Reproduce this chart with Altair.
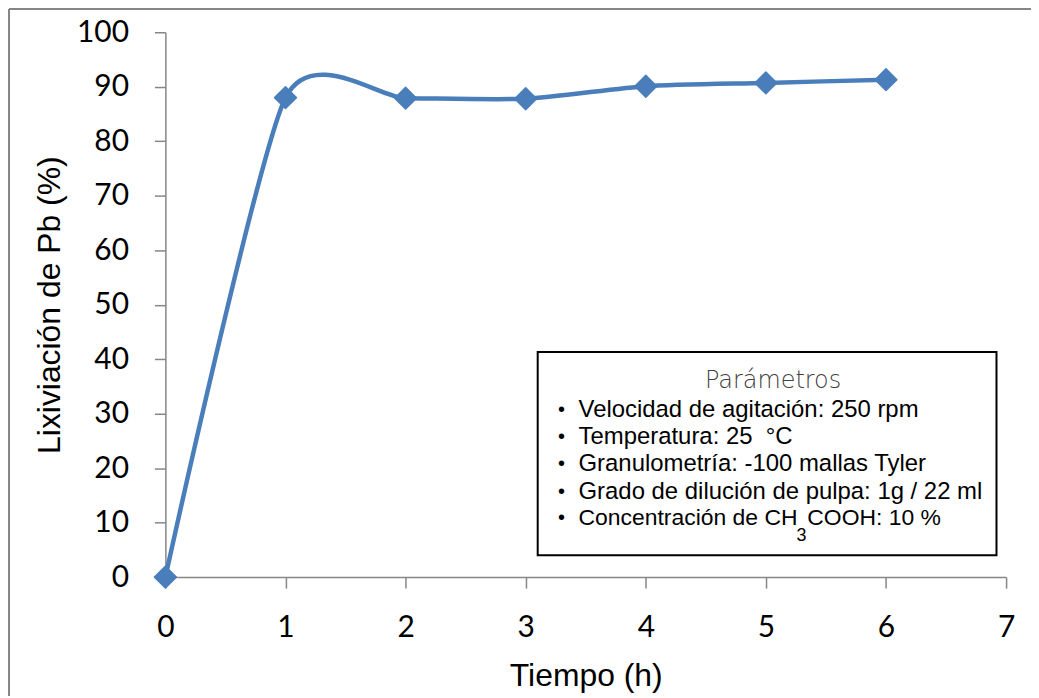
import altair as alt
import pandas as pd

# ---- data ----
tiempo = [0, 1, 2, 3, 4, 5, 6]
lixiviacion = [0.0, 88.0, 87.9, 87.8, 90.1, 90.7, 91.3]

x_ticks = [0, 1, 2, 3, 4, 5, 6, 7]
y_ticks = [0, 10, 20, 30, 40, 50, 60, 70, 80, 90, 100]

box_title = "Parámetros"
box_lines = [
    "Velocidad de agitación: 250 rpm",
    "Temperatura: 25\u00a0 °C",
    "Granulometría: -100 mallas Tyler",
    "Grado de dilución de pulpa: 1g / 22 ml",
]
last_line = "Concentración de CH"
sub_text = "3"
after_sub = "COOH: 10 %"

# annotation anchor positions, in data units (hours, %)
box_x = [3.10, 6.92]
box_y = [4.0, 41.3]
line_y = [30.7, 25.8, 20.8, 15.7, 10.8]
title_pos = (5.06, 35.9)
bullet_x = 3.27
text_x = 3.44
sub_pos = (5.255, 7.6)
after_x = 5.345

BLUE = "#4A7EBB"
GREY = "#868686"

df = pd.DataFrame({"t": tiempo, "v": lixiviacion})

x_scale = alt.Scale(domain=[0, 7], nice=False, zero=False)
y_scale = alt.Scale(domain=[0, 100], nice=False, zero=False)

base_x = alt.X(
    "t:Q", scale=x_scale,
    axis=alt.Axis(values=x_ticks, format="d", title="Tiempo (h)", grid=False,
                  labelFlush=False, tickSize=11, labelPadding=25, titlePadding=18),
)
base_y = alt.Y(
    "v:Q", scale=y_scale,
    axis=alt.Axis(values=y_ticks, format="d", title="Lixiviación de Pb (%)", grid=False,
                  labelFlush=False, tickSize=11, labelPadding=26, titlePadding=10),
)

line = alt.Chart(df).mark_line(
    interpolate="cardinal", tension=0.35, color=BLUE, strokeWidth=4.5
).encode(x=base_x, y=base_y)

points = alt.Chart(df).mark_point(
    shape="diamond", filled=True, size=480, color=BLUE, opacity=1,
    stroke=BLUE, strokeWidth=1.5, strokeJoin="round"
).encode(x="t:Q", y="v:Q")

box_df = pd.DataFrame({"t": [box_x[0]], "t2": [box_x[1]], "v": [box_y[0]], "v2": [box_y[1]]})
box = alt.Chart(box_df).mark_rect(
    fill="white", stroke="black", strokeWidth=2
).encode(x="t:Q", x2="t2:Q", y="v:Q", y2="v2:Q")

title_df = pd.DataFrame({"t": [title_pos[0]], "v": [title_pos[1]], "s": [box_title]})
title_txt = alt.Chart(title_df).mark_text(
    font="DejaVu Sans", fontWeight=200, fontSize=24, color="#404040",
    align="center", baseline="middle"
).encode(x="t:Q", y="v:Q", text="s:N")

lines_df = pd.DataFrame({"t": [text_x] * len(box_lines), "v": line_y[:4], "s": box_lines})
lines_txt = alt.Chart(lines_df).mark_text(
    font="Liberation Sans", fontSize=24, color="black",
    align="left", baseline="middle"
).encode(x="t:Q", y="v:Q", text="s:N")

last_df = pd.DataFrame({"t": [text_x], "v": [line_y[4]], "s": [last_line]})
last_txt = alt.Chart(last_df).mark_text(
    font="Liberation Sans", fontSize=23, color="black",
    align="left", baseline="middle"
).encode(x="t:Q", y="v:Q", text="s:N")

bullets_df = pd.DataFrame({"t": [bullet_x] * len(line_y), "v": line_y, "s": ["•"] * len(line_y)})
bullets_txt = alt.Chart(bullets_df).mark_text(
    font="Liberation Sans", fontSize=20, color="black",
    align="left", baseline="middle"
).encode(x="t:Q", y="v:Q", text="s:N")

sub_df = pd.DataFrame({"t": [sub_pos[0]], "v": [sub_pos[1]], "s": [sub_text]})
sub_txt = alt.Chart(sub_df).mark_text(
    font="Liberation Sans", fontSize=18, color="black",
    align="left", baseline="middle"
).encode(x="t:Q", y="v:Q", text="s:N")

after_df = pd.DataFrame({"t": [after_x], "v": [line_y[4]], "s": [after_sub]})
after_txt = alt.Chart(after_df).mark_text(
    font="Liberation Sans", fontSize=23, color="black",
    align="left", baseline="middle"
).encode(x="t:Q", y="v:Q", text="s:N")

# outer chart frame (decoration)
frame_v = alt.Chart(df).mark_rule(color=GREY, strokeWidth=1.5).encode(
    x=alt.value(-157), y=alt.value(-23), y2=alt.value(720)
)
frame_h = alt.Chart(df).mark_rule(color=GREY, strokeWidth=1.5).encode(
    x=alt.value(-157), x2=alt.value(900), y=alt.value(-23)
)

chart = alt.layer(
    frame_v, frame_h, line, points, box, title_txt, bullets_txt, lines_txt,
    last_txt, sub_txt, after_txt
).properties(
    width=844, height=547,
    padding={"left": 158, "top": 23, "right": 25, "bottom": 118},
    autosize="none",
).configure_view(
    stroke=None
).configure_axis(
    domainColor=GREY, tickColor=GREY, domainWidth=1.5, tickWidth=1.5,
    labelFont="Lato", labelFontSize=30, labelColor="black",
    titleFont="Liberation Sans", titleFontSize=32, titleFontWeight="normal", titleColor="black",
)

chart.save("out.html", embed_options={"renderer": "svg", "actions": False})
